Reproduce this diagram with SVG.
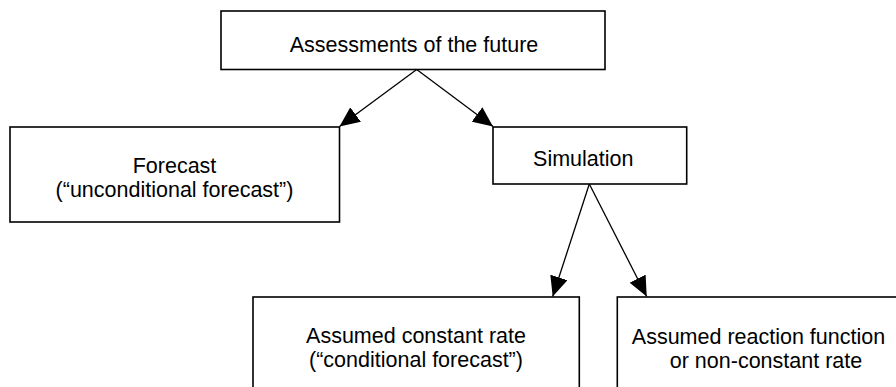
<svg xmlns="http://www.w3.org/2000/svg" width="896" height="387" viewBox="0 0 896 387">
  <defs>
    <style>
      .box { fill: #ffffff; stroke: #000000; stroke-width: 1.6; }
      .lbl { font-family: "Liberation Sans", Arial, sans-serif; font-size: 21.5px; fill: #000000; }
      .conn { stroke: #000000; stroke-width: 1.3; fill: none; marker-end: url(#arrow); }
    </style>
    <marker id="arrow" viewBox="0 0 20 18" refX="20" refY="9" markerWidth="20" markerHeight="18" markerUnits="userSpaceOnUse" orient="auto">
      <path d="M0,0 L20,9 L0,18 z" fill="#000000"/>
    </marker>
  </defs>
  <rect width="896" height="387" fill="#ffffff"/>

  <g id="connectors">
    <line class="conn" x1="416.7" y1="69.5" x2="339.5" y2="126.5"/>
    <line class="conn" x1="416.7" y1="69.5" x2="493" y2="126.5"/>
    <line class="conn" x1="589.3" y1="184" x2="552.7" y2="296.5"/>
    <line class="conn" x1="589.3" y1="184" x2="646.7" y2="296.5"/>
  </g>

  <g id="node-assessments">
    <rect class="box" x="221" y="11" width="384" height="58.5"/>
    <text class="lbl" x="414" y="52" text-anchor="middle">Assessments of the future</text>
  </g>

  <g id="node-forecast">
    <rect class="box" x="10" y="127" width="329.5" height="95"/>
    <text class="lbl" x="174.5" y="172.7" text-anchor="middle">Forecast</text>
    <text class="lbl" x="174.5" y="196.7" text-anchor="middle">(“unconditional forecast”)</text>
  </g>

  <g id="node-simulation">
    <rect class="box" x="493" y="127" width="193.7" height="57"/>
    <text class="lbl" x="583.3" y="166" text-anchor="middle">Simulation</text>
  </g>

  <g id="node-constant">
    <rect class="box" x="253" y="297" width="326.3" height="120"/>
    <text class="lbl" x="416" y="343" text-anchor="middle">Assumed constant rate</text>
    <text class="lbl" x="416" y="367" text-anchor="middle">(“conditional forecast”)</text>
  </g>

  <g id="node-reaction">
    <rect class="box" x="617.3" y="297" width="320" height="120"/>
    <text class="lbl" x="758.5" y="344" text-anchor="middle">Assumed reaction function</text>
    <text class="lbl" x="766" y="368" text-anchor="middle">or non-constant rate</text>
  </g>
</svg>
